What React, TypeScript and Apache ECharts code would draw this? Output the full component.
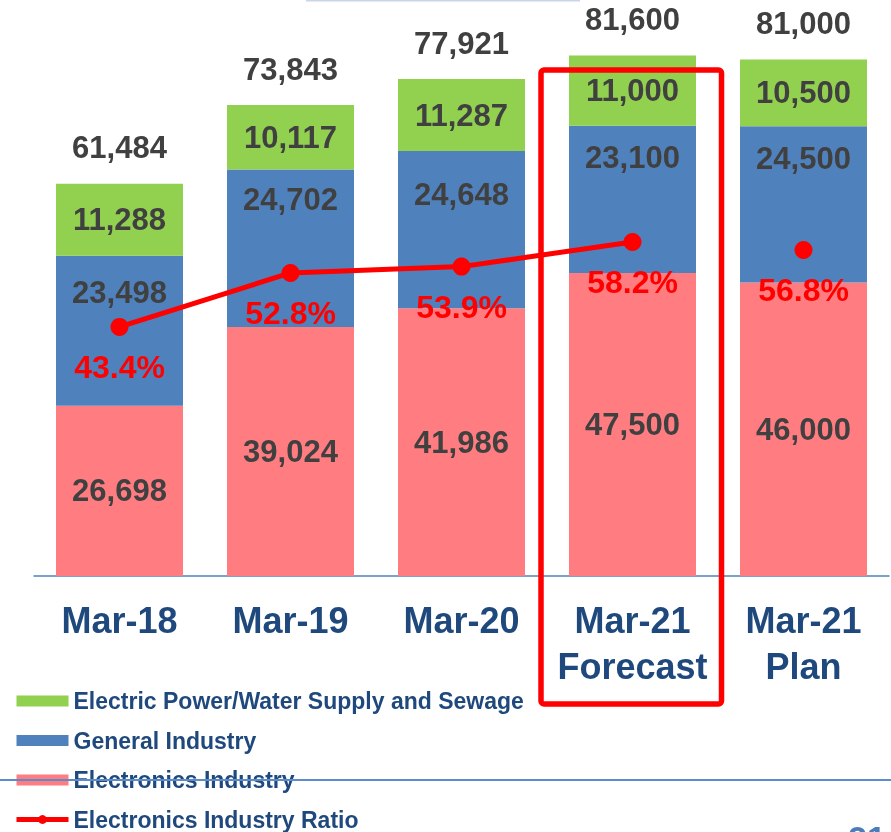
import React, { useEffect, useRef } from "react";
import * as echarts from "echarts";

const categories = ["Mar-18", "Mar-19", "Mar-20", "Mar-21\nForecast", "Mar-21\nPlan"];
const electronics = [26698, 39024, 41986, 47500, 46000];
const general = [23498, 24702, 24648, 23100, 24500];
const power = [11288, 10117, 11287, 11000, 10500];
const ratioActual = [43.4, 52.8, 53.9, 58.2, null];
const ratioPlan = [null, null, null, null, 56.8];

// label styling tweaks (distance of general-industry label from its segment top)
const generalLabelDistance = [21, 14, 28, 16, 17];

const FONT = "'Liberation Sans', Arial, sans-serif";
const fmt = (v: number) => v.toLocaleString("en-US");

export default function App() {
  const ref = useRef<HTMLDivElement>(null);
  useEffect(() => {
    if (!ref.current) return;
    const chart = echarts.init(ref.current, null, { renderer: "svg" });
    const totals = categories.map((_, i) => electronics[i] + general[i] + power[i]);
    const numLabel = {
      show: true,
      fontFamily: FONT,
      fontWeight: "bold" as const,
      fontSize: 31,
      color: "#404040",
    };
    const ratioLabel = {
      show: true,
      position: "bottom" as const,
      distance: 15,
      fontFamily: FONT,
      fontWeight: "bold" as const,
      fontSize: 32,
      color: "#FF0000",
      formatter: (p: any) => Number(p.value).toFixed(1) + "%",
    };
    chart.setOption({
      animation: false,
      grid: { left: 34, right: 2, top: 2, bottom: 256, outerBoundsMode: "none", containLabel: false },
      legend: {
        orient: "vertical",
        left: 14,
        top: 689.5,
        height: 160,
        padding: 0,
        itemWidth: 52,
        itemHeight: 11,
        itemGap: 16.5,
        selectedMode: false,
        textStyle: { fontFamily: FONT, fontWeight: "bold", fontSize: 23, color: "#1F497D", lineHeight: 23 },
        data: [
          { name: "Electric Power/Water Supply and Sewage", icon: "rect" },
          { name: "General Industry", icon: "rect" },
          { name: "Electronics Industry", icon: "rect" },
          {
            name: "Electronics Industry Ratio",
            lineStyle: { width: 5, color: "#FF0000" },
            itemStyle: { color: "#FF0000" },
          },
        ],
      },
      xAxis: {
        type: "category",
        data: categories,
        axisTick: { show: false },
        axisLine: { lineStyle: { color: "#4F81BD", width: 1.5 } },
        axisLabel: {
          interval: 0,
          margin: 21,
          fontFamily: FONT,
          fontWeight: "bold",
          fontSize: 36,
          lineHeight: 46,
          color: "#1F497D",
        },
      },
      yAxis: [
        { type: "value", min: 0, max: 90000, show: false, splitLine: { show: false } },
        { type: "value", min: 0, max: 100, show: false, splitLine: { show: false } },
      ],
      series: [
        {
          name: "Electronics Industry",
          type: "bar",
          stack: "s",
          barWidth: 127,
          data: electronics,
          itemStyle: { color: "#FF7C80" },
          label: { ...numLabel, position: "inside", formatter: (p: any) => fmt(p.value) },
        },
        {
          name: "General Industry",
          type: "bar",
          stack: "s",
          barWidth: 127,
          data: general.map((v, i) => ({
            value: v,
            label: { distance: generalLabelDistance[i] },
          })),
          itemStyle: { color: "#4F81BD" },
          label: { ...numLabel, position: "insideTop", formatter: (p: any) => fmt(p.value) },
        },
        {
          name: "Electric Power/Water Supply and Sewage",
          type: "bar",
          stack: "s",
          barWidth: 127,
          data: power,
          itemStyle: { color: "#92D050" },
          label: { ...numLabel, position: "inside", formatter: (p: any) => fmt(p.value) },
        },
        {
          name: "Total",
          type: "scatter",
          data: totals,
          symbolSize: 1,
          itemStyle: { color: "rgba(0,0,0,0)", opacity: 1 },
          label: { ...numLabel, position: "top", distance: 20, formatter: (p: any) => fmt(p.value) },
          z: 5,
        },
        {
          name: "Electronics Industry Ratio",
          type: "line",
          yAxisIndex: 1,
          data: ratioActual,
          symbol: "circle",
          symbolSize: 18,
          lineStyle: { color: "#FF0000", width: 5 },
          itemStyle: { color: "#FF0000" },
          label: ratioLabel,
          z: 10,
        },
        {
          name: "Electronics Industry Ratio",
          type: "line",
          yAxisIndex: 1,
          data: ratioPlan,
          symbol: "circle",
          symbolSize: 18,
          lineStyle: { color: "#FF0000", width: 5 },
          itemStyle: { color: "#FF0000" },
          label: ratioLabel,
          z: 10,
        },
      ],
      graphic: [
        {
          type: "rect",
          z: 100,
          shape: { x: 541, y: 70, width: 180.5, height: 634, r: 3 },
          style: { fill: "none", stroke: "#FF0000", lineWidth: 5.5 },
        },
        {
          type: "line",
          z: 100,
          shape: { x1: 0, y1: 780, x2: 891, y2: 780 },
          style: { stroke: "#5B8BC9", lineWidth: 2 },
        },
        {
          type: "line",
          z: 100,
          shape: { x1: 306, y1: 0.5, x2: 580, y2: 0.5 },
          style: { stroke: "#C9D5E8", lineWidth: 2 },
        },
        {
          type: "text",
          z: 100,
          x: 848,
          y: 821,
          style: { text: "21", fontFamily: FONT, fontWeight: "bold", fontSize: 34, fill: "#4A7EBB" },
        },
      ],
    });
    return () => chart.dispose();
  }, []);
  return <div ref={ref} style={{ position: "fixed", left: 0, top: 0, width: 891, height: 832 }} />;
}
